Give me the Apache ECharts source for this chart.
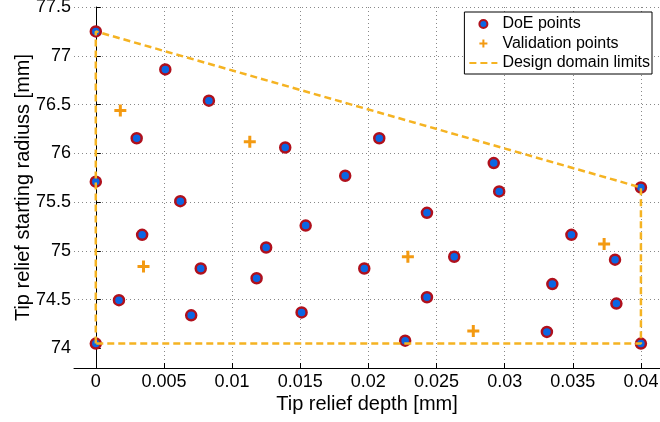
<!DOCTYPE html>
<html>
<head>
<meta charset="utf-8">
<script src="https://cdn.jsdelivr.net/npm/echarts/dist/echarts.min.js"></script>
<style>
  html, body { margin: 0; padding: 0; background: #fff; }
  #chart { width: 660px; height: 422px; }
</style>
</head>
<body>
<div id="chart"></div>
<script>
// DoE points (tip relief depth [mm], starting radius [mm])
const doeX = [0, 0.0051, 0.0083, 0.003, 0, 0.0062, 0.0034, 0.0125, 0.0077, 0.0118, 0.0017, 0.007, 0,
              0.0139, 0.0208, 0.0183, 0.0154, 0.0243, 0.0197, 0.0263, 0.0243, 0.0151, 0.0227,
              0.0292, 0.0296, 0.04, 0.0349, 0.0381, 0.0335, 0.0382, 0.0331, 0.04];
const doeY = [77.25, 76.86, 76.54, 76.155, 75.71, 75.51, 75.165, 75.035, 74.82, 74.72, 74.495, 74.34, 74.05,
              76.06, 76.155, 75.77, 75.26, 75.39, 74.82, 74.94, 74.525, 74.37, 74.08,
              75.9, 75.61, 75.65, 75.165, 74.91, 74.66, 74.46, 74.17, 74.05];

// validation points
const valX = [0.0018, 0.0113, 0.0035, 0.0229, 0.0373, 0.0277];
const valY = [76.44, 76.12, 74.84, 74.94, 75.07, 74.18];

// design domain corners
const limitX = [0, 0, 0.04, 0.04, 0];
const limitY = [74.05, 77.25, 75.65, 74.05, 74.05];

// tick labels
const xTicks = [0, 0.005, 0.01, 0.015, 0.02, 0.025, 0.03, 0.035, 0.04];
const yTicks = [74, 74.5, 75, 75.5, 76, 76.5, 77, 77.5];

const seriesNames = ['DoE points', 'Validation points', 'Design domain limits'];

function pairs(xs, ys) {
    let out = [];
    xs.forEach((x, i) => out.push([x, ys[i]]));
    return out;
}

const plusPath = 'path://M3.75,0H6.25V3.75H10V6.25H6.25V10H3.75V6.25H0V3.75H3.75Z';
const font = 'Liberation Sans';
const gridLine = { show: true, showMinLine: false, lineStyle: { color: '#888', type: [1, 3], width: 1 } };

let myChart = echarts.init(document.getElementById('chart'));
let option = {
    animation: false,
    backgroundColor: '#fff',
    textStyle: { fontFamily: font, color: '#000' },
    grid: { left: 74, right: 0, top: 7, bottom: 54, containLabel: false, outerBoundsMode: 'none' },
    legend: {
        data: seriesNames,
        orient: 'vertical',
        right: 8,
        top: 12,
        itemWidth: 28,
        itemHeight: 8,
        itemGap: 3.5,
        padding: [4, 2, 3, 4],
        borderColor: '#000',
        borderWidth: 1,
        backgroundColor: '#fff',
        textStyle: { fontFamily: font, fontSize: 16, color: '#000' }
    },
    xAxis: {
        type: 'value',
        min: -0.0016,
        max: 0.0414,
        name: 'Tip relief depth [mm]',
        nameLocation: 'middle',
        nameGap: 26,
        nameMoveOverlap: false,
        nameTextStyle: { fontFamily: font, fontSize: 20, color: '#000' },
        axisLine: { lineStyle: { color: '#000', width: 1 } },
        axisTick: { inside: true, length: 5, customValues: xTicks, lineStyle: { color: '#000' } },
        axisLabel: { fontFamily: font, fontSize: 18, color: '#000', margin: 5, customValues: xTicks },
        splitLine: Object.assign({ customValues: xTicks }, gridLine)
    },
    yAxis: {
        type: 'value',
        min: 73.8,
        max: 77.5,
        name: 'Tip relief starting radiuss [mm]',
        nameLocation: 'middle',
        nameGap: 41,
        nameMoveOverlap: false,
        nameTextStyle: { fontFamily: font, fontSize: 20, color: '#000' },
        axisLine: { show: true, lineStyle: { color: '#000', width: 1 } },
        axisTick: { show: true, inside: true, length: 5, customValues: yTicks, lineStyle: { color: '#000' } },
        axisLabel: { fontFamily: font, fontSize: 18, color: '#000', margin: 3, customValues: yTicks },
        splitLine: Object.assign({ customValues: yTicks }, gridLine)
    },
    series: [
        {
            name: seriesNames[0],
            type: 'scatter',
            data: pairs(doeX, doeY),
            symbol: 'circle',
            symbolSize: 10,
            itemStyle: { color: '#0a66e4', borderColor: '#b0101c', borderWidth: 2.5, opacity: 1 }
        },
        {
            name: seriesNames[1],
            type: 'scatter',
            data: pairs(valX, valY),
            symbol: plusPath,
            symbolSize: 12,
            itemStyle: { color: '#f39a12', opacity: 1 }
        },
        {
            name: seriesNames[2],
            type: 'line',
            data: pairs(limitX, limitY),
            symbol: 'none',
            showSymbol: false,
            lineStyle: { color: '#f5b322', width: 2.5, type: [7, 4] },
            itemStyle: { color: 'rgba(0,0,0,0)', borderWidth: 0 }
        }
    ]
};

option && myChart.setOption(option);
</script>
</body>
</html>
